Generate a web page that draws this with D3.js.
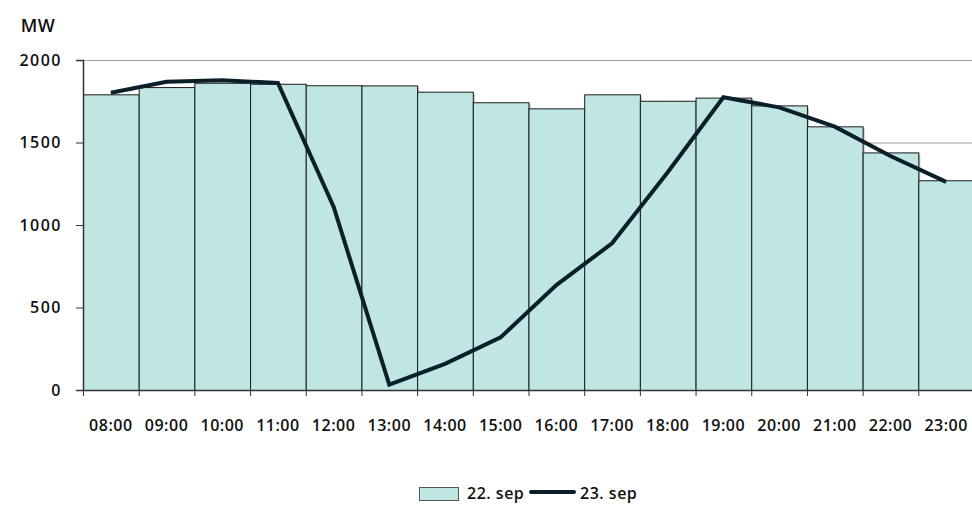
<!DOCTYPE html>
<html>
<head>
<meta charset="utf-8">
<script src="https://cdn.jsdelivr.net/npm/d3@7"></script>
<style>
  html, body { margin: 0; padding: 0; background: #fff; }
  svg text {
    font-family: "Open Sans", Lato, sans-serif;
    font-weight: 600;
    fill: #111;
    letter-spacing: 0.5px;
  }
</style>
</head>
<body>
<svg id="chart" width="972" height="505"></svg>
<script>
// Hourly load, MW
const hours = ["08:00","09:00","10:00","11:00","12:00","13:00","14:00","15:00",
               "16:00","17:00","18:00","19:00","20:00","21:00","22:00","23:00"];
const sep22 = [1792, 1836, 1862, 1856, 1847, 1846, 1808, 1744,
               1707, 1792, 1753, 1772, 1725, 1598, 1440, 1271];
const sep23 = [1802, 1868, 1877, 1861, 1111, 32, 158, 319,
               636, 889, 1320, 1774, 1713, 1596, 1418, 1261];
const yTicks = [0, 500, 1000, 1500, 2000];
const seriesNames = ["22. sep", "23. sep"];

const svg = d3.select("#chart");
const x0 = 83, x1 = 974, yTop = 60, yBot = 390;

const x = d3.scaleBand().domain(hours).range([x0, x1]).padding(0);
const y = d3.scaleLinear().domain([0, 2000]).range([yBot, yTop]);

// horizontal gridlines
svg.append("g")
  .selectAll("line")
  .data(yTicks.filter(d => d > 0))
  .join("line")
  .attr("x1", x0).attr("x2", x1)
  .attr("y1", d => y(d) + 0.5).attr("y2", d => y(d) + 0.5)
  .attr("stroke", "#a0a0a0")
  .attr("stroke-width", 1.2);

// bar shadows
svg.append("g")
  .selectAll("rect")
  .data(sep22)
  .join("rect")
  .attr("x", (d, i) => x(hours[i]) + 2)
  .attr("y", d => y(d) + 2)
  .attr("width", x.bandwidth())
  .attr("height", d => yBot - y(d) - 2)
  .attr("fill", "#9a9a9a")
  .attr("opacity", 0.6);

// bars for 22. sep
svg.append("g")
  .selectAll("rect")
  .data(sep22)
  .join("rect")
  .attr("x", (d, i) => x(hours[i]) + 0.5)
  .attr("y", d => y(d) + 0.5)
  .attr("width", x.bandwidth())
  .attr("height", d => yBot - y(d))
  .attr("fill", "#c0e6e4")
  .attr("stroke", "#1a1a1a")
  .attr("stroke-width", 1);

// y axis
const yAxis = d3.axisLeft(y).tickValues(yTicks).tickSize(7).tickPadding(14)
  .tickFormat(d3.format("d"));
const gy = svg.append("g").attr("transform", `translate(${x0},0)`).call(yAxis);
gy.select(".domain").attr("stroke", "#333").attr("stroke-width", 1.5);
gy.selectAll(".tick line").attr("stroke", "#333");
gy.selectAll("text").attr("font-size", 16).style("fill", "#111")
  .style("font-family", "\"Open Sans\", sans-serif").style("letter-spacing", "1.5px");

// x axis
const xAxis = d3.axisBottom(x).tickSize(0).tickPadding(30);
const gx = svg.append("g").attr("transform", `translate(0,${yBot})`).call(xAxis);
gx.select(".domain").attr("stroke", "#333").attr("stroke-width", 1.5);
gx.selectAll("text").attr("font-size", 16).style("fill", "#111")
  .style("font-family", "\"Open Sans\", sans-serif").style("letter-spacing", "0.5px");

// tick marks at category boundaries
svg.append("g")
  .selectAll("line")
  .data(hours)
  .join("line")
  .attr("x1", d => x(d) + 0.5).attr("x2", d => x(d) + 0.5)
  .attr("y1", yBot).attr("y2", yBot + 6)
  .attr("stroke", "#333");

// line for 23. sep
const line = d3.line()
  .x((d, i) => x(hours[i]) + x.bandwidth() / 2)
  .y(d => y(d));
svg.append("path")
  .datum(sep23)
  .attr("d", line)
  .attr("fill", "none")
  .attr("stroke", "#0b1f2a")
  .attr("stroke-width", 4)
  .attr("stroke-linejoin", "miter");

// unit label
svg.append("text")
  .attr("x", 38).attr("y", 32)
  .attr("text-anchor", "middle")
  .attr("font-size", 18)
  .text("MW");

// legend
const lg = svg.append("g");
lg.append("rect")
  .attr("x", 419.5).attr("y", 487.5).attr("width", 39).attr("height", 13)
  .attr("fill", "#c0e6e4").attr("stroke", "#555");
lg.append("text").attr("x", 467).attr("y", 499).attr("font-size", 16).text(seriesNames[0]);
lg.append("line")
  .attr("x1", 531).attr("x2", 574).attr("y1", 492).attr("y2", 492)
  .attr("stroke", "#0b1f2a").attr("stroke-width", 4).attr("stroke-linecap", "round");
lg.append("text").attr("x", 580).attr("y", 499).attr("font-size", 16).text(seriesNames[1]);
</script>
</body>
</html>
